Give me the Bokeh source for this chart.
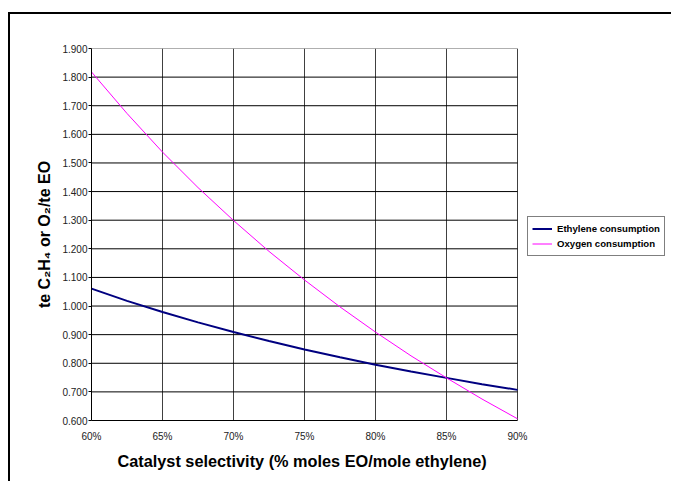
from bokeh.plotting import figure
from bokeh.models import Range1d, FixedTicker, Legend, LegendItem, Title
from bokeh.embed import file_html
from bokeh.resources import INLINE

# ---- data ----
selectivity = [0.60, 0.625, 0.65, 0.675, 0.70, 0.725, 0.75, 0.775, 0.80, 0.825, 0.85, 0.875, 0.90]
ethylene = [1.061, 1.018, 0.979, 0.943, 0.909, 0.878, 0.848, 0.821, 0.795, 0.771, 0.749, 0.727, 0.707]
oxygen = [1.818, 1.673, 1.538, 1.414, 1.299, 1.191, 1.091, 0.997, 0.909, 0.826, 0.749, 0.675, 0.606]

x_ticks = [0.60, 0.65, 0.70, 0.75, 0.80, 0.85, 0.90]
x_tick_labels = ["60%", "65%", "70%", "75%", "80%", "85%", "90%"]
y_ticks = [0.6, 0.7, 0.8, 0.9, 1.0, 1.1, 1.2, 1.3, 1.4, 1.5, 1.6, 1.7, 1.8, 1.9]
y_tick_labels = ["0.600", "0.700", "0.800", "0.900", "1.000", "1.100", "1.200",
                 "1.300", "1.400", "1.500", "1.600", "1.700", "1.800", "1.900"]

series_names = ["Ethylene consumption", "Oxygen consumption"]
x_title = "Catalyst selectivity (% moles EO/mole ethylene)"
y_title = "te C\u2082H\u2084 or O\u2082/te EO"

FONT = "Liberation Sans"

# layout: the plotting area is 426 px wide; the frame is widened to host the legend
PLOT_PX = 426
FRAME_W = 578
x_start, x_stop = x_ticks[0], x_ticks[-1]
x_end = x_start + (x_stop - x_start) * FRAME_W / PLOT_PX

p = figure(frame_width=FRAME_W, frame_height=372, output_backend="svg", toolbar_location=None,
           x_range=Range1d(x_start, x_end), y_range=Range1d(y_ticks[0], y_ticks[-1]),
           min_border_left=81, min_border_right=2, min_border_top=34, min_border_bottom=61)

p.styles = {"border-left": "2px solid black", "border-top": "2px solid black",
            "border-right": "0px none", "overflow": "hidden",
            "margin-left": "8px", "margin-top": "12px"}

p.outline_line_color = None

# vertical grid lines
p.xgrid.ticker = FixedTicker(ticks=x_ticks)
p.xgrid.grid_line_color = "#404040"
p.ygrid.grid_line_color = None

# horizontal grid lines, limited to the plotting area
n_inner = len(y_ticks) - 1
p.segment(x0=[x_start] * n_inner, x1=[x_stop] * n_inner, y0=y_ticks[:-1], y1=y_ticks[:-1],
          line_color="#000000", line_width=1)
p.segment(x0=[x_start], x1=[x_stop], y0=[y_ticks[-1]], y1=[y_ticks[-1]],
          line_color="#606060", line_width=1)

# axes
p.xaxis.ticker = FixedTicker(ticks=x_ticks)
p.yaxis.ticker = FixedTicker(ticks=y_ticks)
p.xaxis.bounds = (x_start, x_stop)
p.xaxis.major_label_overrides = {t: l for t, l in zip(x_ticks, x_tick_labels)}
p.yaxis.major_label_overrides = {t: l for t, l in zip(y_ticks, y_tick_labels)}

for ax in (p.xaxis[0], p.yaxis[0]):
    ax.axis_line_color = "#000000"
    ax.axis_line_width = 1
    ax.minor_tick_line_color = None
    ax.major_label_text_font = FONT
    ax.major_label_text_font_size = "10px"
    ax.major_label_text_color = "#222222"
    ax.axis_label_text_font = FONT
    ax.axis_label_text_font_style = "bold"
    ax.axis_label_text_font_size = "16px"
    ax.axis_label_text_color = "#000000"

p.xaxis.major_tick_out = 0
p.xaxis.major_tick_in = 0
p.xaxis.major_label_standoff = 10

p.yaxis.major_tick_out = 3
p.yaxis.major_tick_in = 0
p.yaxis.major_tick_line_color = "#000000"
p.yaxis.major_label_standoff = 1
p.yaxis.axis_label = y_title
p.yaxis.axis_label_standoff = 6

xt = Title(text=x_title, align="left", offset=26, standoff=10,
           text_font=FONT, text_font_style="bold", text_font_size="16.3px",
           text_color="#000000")
p.add_layout(xt, "below")

# lines
r_eth = p.line(selectivity, ethylene, line_color="#000080", line_width=2)
r_oxy = p.line(selectivity, oxygen, line_color="#FF00FF", line_width=1)

legend = Legend(items=[LegendItem(label=series_names[0], renderers=[r_eth]),
                       LegendItem(label=series_names[1], renderers=[r_oxy])],
                location=(436, 164))
legend.border_line_color = "#000000"
legend.border_line_width = 1
legend.background_fill_color = "white"
legend.padding = 4
legend.spacing = 0
legend.margin = 0
legend.glyph_width = 20
legend.glyph_height = 15
legend.label_height = 15
legend.label_standoff = 5
legend.label_text_font = FONT
legend.label_text_font_style = "bold"
legend.label_text_font_size = "9.6px"
legend.label_text_color = "#000000"
p.add_layout(legend, "center")

open("out.html", "w").write(file_html(p, INLINE))
